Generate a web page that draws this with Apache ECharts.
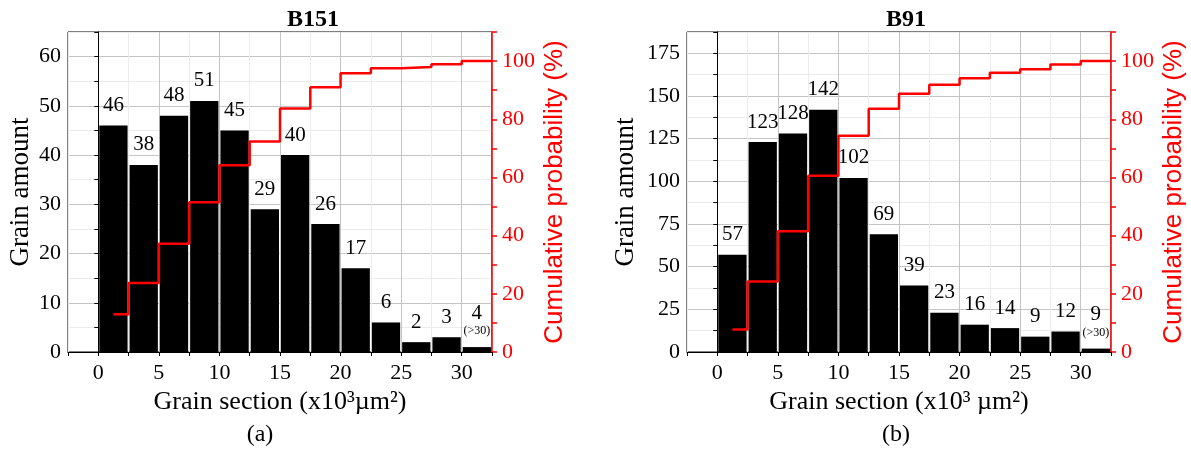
<!DOCTYPE html>
<html>
<head>
<meta charset="utf-8">
<script src="https://cdn.jsdelivr.net/npm/echarts@6/dist/echarts.min.js"></script>
<style>
  html, body { margin: 0; padding: 0; background: #fff; }
  #chart { width: 1191px; height: 450px; }
</style>
</head>
<body>
<div id="chart"></div>
<script>
// bin edges of the grain section (x10^3 um^2), bin width 2.5
const binEdges = [0, 2.5, 5, 7.5, 10, 12.5, 15, 17.5, 20, 22.5, 25, 27.5, 30, 32.5]
// x positions of the cumulative step line
const stepX = [1.25, 2.5, 5, 7.5, 10, 12.5, 15, 17.5, 20, 22.5, 25, 27.5, 30, 32.5]

// B151
const countsA = [46, 38, 48, 51, 45, 29, 40, 26, 17, 6, 2, 3, 1]
const labelsA = ['46', '38', '48', '51', '45', '29', '40', '26', '17', '6', '2', '3', '4']
const cumA = [13.0, 23.7, 37.2, 51.5, 64.2, 72.4, 83.7, 91.0, 95.8, 97.5, 98.0, 98.9, 100]

// B91
const countsB = [57, 123, 128, 142, 102, 69, 39, 23, 16, 14, 9, 12, 2]
const labelsB = ['57', '123', '128', '142', '102', '69', '39', '23', '16', '14', '9', '12', '9']
const cumB = [7.7, 24.2, 41.5, 60.6, 74.3, 83.6, 88.8, 91.9, 94.1, 96.0, 97.2, 98.8, 100]

const lastNote = '(>30)'

const serif = '"Liberation Serif", "Times New Roman", serif'
const sans = '"Liberation Sans", Arial, sans-serif'
const red = '#ff0000'

const chart = echarts.init(document.getElementById('chart'))

function renderBar(params, api) {
  const p0 = api.coord([api.value(0), api.value(2)])
  const p1 = api.coord([api.value(1), 0])
  return {
    type: 'rect',
    shape: { x: p0[0] + 1, y: p0[1], width: p1[0] - p0[0] - 2, height: p1[1] - p0[1] },
    style: { fill: '#000' }
  }
}

function xAxis(gridIndex, name) {
  return {
    type: 'value',
    gridIndex: gridIndex,
    min: -2.5,
    max: 32.5,
    interval: 2.5,
    axisLine: { show: true, lineStyle: { color: '#000', width: 1 } },
    axisTick: { show: true, length: 4, lineStyle: { color: '#000' } },
    axisLabel: {
      margin: 10,
      color: '#000',
      fontFamily: serif,
      fontSize: 22,
      formatter: v => (v >= 0 && v % 5 === 0 ? String(v) : '')
    },
    splitLine: { show: true, lineStyle: { color: ['#ececec', '#c4c4c4'], width: 1 } },
    name: name,
    nameLocation: 'middle',
    nameGap: 34,
    nameTextStyle: { color: '#000', fontFamily: serif, fontSize: 26 }
  }
}

function leftAxis(gridIndex, max, step, labelStep, nameGap) {
  return {
    type: 'value',
    gridIndex: gridIndex,
    position: 'left',
    min: 0,
    max: max,
    interval: step,
    axisLine: { show: true, lineStyle: { color: '#000', width: 1 } },
    axisTick: { show: true, length: 4, lineStyle: { color: '#000' } },
    axisLabel: {
      margin: 7,
      color: '#000',
      fontFamily: serif,
      fontSize: 22,
      formatter: v => (v % labelStep === 0 ? String(v) : '')
    },
    splitLine: { show: true, lineStyle: { color: ['#c4c4c4', '#ececec'], width: 1 } },
    name: 'Grain amount',
    nameLocation: 'middle',
    nameGap: nameGap,
    nameTextStyle: { color: '#000', fontFamily: serif, fontSize: 27 }
  }
}

function rightAxis(gridIndex) {
  return {
    type: 'value',
    gridIndex: gridIndex,
    position: 'right',
    min: 0,
    max: 110,
    interval: 10,
    axisLine: { show: true, lineStyle: { color: red, width: 1.5 } },
    axisTick: { show: true, length: 5, lineStyle: { color: red, width: 1.5 } },
    axisLabel: {
      margin: 10,
      color: red,
      fontFamily: serif,
      fontSize: 22,
      formatter: v => (v % 20 === 0 ? String(v) : '')
    },
    splitLine: { show: false },
    name: 'Cumulative probability (%)',
    nameLocation: 'middle',
    nameGap: 50,
    nameTextStyle: { color: red, fontFamily: sans, fontSize: 26 }
  }
}

function panelSeries(xIdx, yLeft, yRight, counts, labels, cum) {
  const last = counts.length - 1
  return [
    {
      type: 'custom',
      xAxisIndex: xIdx,
      yAxisIndex: yLeft,
      renderItem: renderBar,
      encode: { x: [0, 1], y: 2 },
      data: counts.map((c, i) => [binEdges[i], binEdges[i + 1], c]),
      z: 2
    },
    {
      type: 'scatter',
      xAxisIndex: xIdx,
      yAxisIndex: yLeft,
      symbolSize: 0,
      silent: true,
      itemStyle: { opacity: 1 },
      emphasis: { disabled: true },
      data: counts.map((c, i) => [(binEdges[i] + binEdges[i + 1]) / 2, c]),
      label: {
        show: true,
        position: 'top',
        distance: 9,
        opacity: 1,
        color: '#000',
        fontFamily: serif,
        fontSize: 21,
        formatter: p => (p.dataIndex === last
          ? '{a|' + labels[p.dataIndex] + '}\n{b|' + lastNote + '}'
          : '{a|' + labels[p.dataIndex] + '}'),
        rich: {
          a: { fontFamily: serif, fontSize: 21, color: '#000', lineHeight: 22 },
          b: { fontFamily: serif, fontSize: 12, color: '#000', lineHeight: 14 }
        }
      },
      z: 4
    },
    {
      type: 'line',
      xAxisIndex: xIdx,
      yAxisIndex: yRight,
      step: 'end',
      symbol: 'none',
      lineStyle: { color: red, width: 2.5 },
      data: stepX.map((x, i) => [x, cum[Math.min(i, cum.length - 1)]]),
      z: 5
    }
  ]
}

const option = {
  animation: false,
  backgroundColor: '#fff',
  textStyle: { fontFamily: serif, color: '#000' },
  title: [
    { text: 'B151', left: 308, top: 3, textAlign: 'center', textStyle: { fontFamily: serif, fontWeight: 'bold', fontSize: 24, color: '#000' } },
    { text: 'B91', left: 901, top: 3, textAlign: 'center', textStyle: { fontFamily: serif, fontWeight: 'bold', fontSize: 24, color: '#000' } },
    { text: '(a)', left: 255, top: 418, textAlign: 'center', textStyle: { fontFamily: serif, fontWeight: 'normal', fontSize: 24, color: '#000' } },
    { text: '(b)', left: 891, top: 418, textAlign: 'center', textStyle: { fontFamily: serif, fontWeight: 'normal', fontSize: 24, color: '#000' } }
  ],
  grid: [
    { left: 68, top: 32, width: 424, height: 320, show: true, borderColor: '#000', borderWidth: 1 },
    { left: 687, top: 32, width: 424, height: 320, show: true, borderColor: '#000', borderWidth: 1 }
  ],
  xAxis: [
    xAxis(0, 'Grain section (x10³µm²)'),
    xAxis(1, 'Grain section (x10³ µm²)')
  ],
  yAxis: [
    leftAxis(0, 65, 5, 10, 34),
    rightAxis(0),
    leftAxis(1, 187.5, 12.5, 25, 48),
    rightAxis(1)
  ],
  series: [
    ...panelSeries(0, 0, 1, countsA, labelsA, cumA),
    ...panelSeries(1, 2, 3, countsB, labelsB, cumB)
  ]
}

chart.setOption(option)
</script>
</body>
</html>
